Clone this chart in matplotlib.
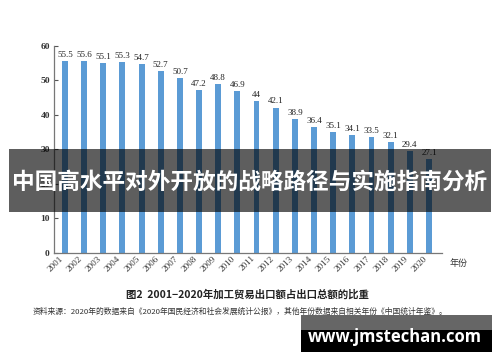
import matplotlib
matplotlib.use("Agg")
import matplotlib.pyplot as plt
from matplotlib.patches import Rectangle
from matplotlib.transforms import offset_copy

years = ["2001", "2002", "2003", "2004", "2005", "2006", "2007", "2008", "2009", "2010",
         "2011", "2012", "2013", "2014", "2015", "2016", "2017", "2018", "2019", "2020"]
shares = [55.5, 55.6, 55.1, 55.3, 54.7, 52.7, 50.7, 47.2, 48.8, 46.9,
          44, 42.1, 38.9, 36.4, 35.1, 34.1, 33.5, 32.1, 29.4, 27.1]
value_labels = ["55.5", "55.6", "55.1", "55.3", "54.7", "52.7", "50.7", "47.2", "48.8", "46.9",
                "44", "42.1", "38.9", "36.4", "35.1", "34.1", "33.5", "32.1", "29.4", "27.1"]
yticks = [0, 10, 20, 30, 40, 50, 60]

caption = "图2  2001−2020年加工贸易出口额占出口总额的比重"
source = "资料来源：2020年的数据来自《2020年国民经济和社会发展统计公报》，其他年份数据来自相关年份《中国统计年鉴》。"
banner = "中国高水平对外开放的战略路径与实施指南分析"
watermark = "www.jmstechan.com"
xunit = "年份"

serif = ["Liberation Serif", "Noto Sans CJK SC"]
cjk = ["Noto Sans CJK SC", "DejaVu Sans"]

fig = plt.figure(figsize=(5.0, 3.62), dpi=100)
ax = fig.add_axes([0.108, 0.301, 0.776, 0.5727])

x = list(range(len(years)))
bars = ax.bar(x, shares, width=0.31, color="#5b9bd5", zorder=2)
for xi, v, lab in zip(x, shares, value_labels):
    ax.annotate(lab, (xi, v), xytext=(0, 1.5), textcoords="offset points",
                ha="center", va="bottom", fontsize=6.5, family=serif, color="#222222")

ax.set_xlim(-0.57, 19.68)
ax.set_ylim(0, 60)
ax.set_yticks(yticks)
ax.set_yticklabels([str(t) for t in yticks], family=serif, fontsize=6.8,
                   fontweight="bold", color="#333333")
ax.set_xticks(x)
ax.set_xticklabels(years, rotation=45, ha="right", va="top", family=serif,
                   fontsize=6.6, color="#333333")
for lbl in ax.get_xticklabels():
    lbl.set_transform(offset_copy(lbl.get_transform(), fig=fig, x=3, y=-2, units="dots"))
ax.tick_params(axis="x", length=0, pad=1)
ax.tick_params(axis="y", direction="in", length=3, width=0.8, color="#555555", pad=3)
for s in ["top", "right"]:
    ax.spines[s].set_visible(False)
for s in ["left", "bottom"]:
    ax.spines[s].set_color("#777777")
    ax.spines[s].set_linewidth(0.9)

fig.text(450 / 500, 1 - 263 / 362, xunit, family=cjk, fontsize=6.5,
         ha="left", va="center", color="#333333")

fig.text(247 / 500, 1 - 294 / 362, caption, family=cjk, fontsize=7.5,
         fontweight="bold", ha="center", va="center", color="#222222")
fig.text(33 / 500, 1 - 312 / 362, source, family=cjk, fontsize=5.6,
         ha="left", va="center", color="#333333")

# banner overlay
fig.patches.append(Rectangle((9 / 500, 1 - 212 / 362), 482 / 500, 63 / 362,
                             transform=fig.transFigure, facecolor="black",
                             alpha=0.63, edgecolor="none", zorder=5))
fig.text(250 / 500, 1 - 182 / 362, banner, family=cjk, fontsize=16.3,
         fontweight="bold", color="white", ha="center", va="center", zorder=6)

# watermark box
fig.patches.append(Rectangle((301 / 500, 1 - 330 / 362), 191 / 500, 15 / 362,
                             transform=fig.transFigure, facecolor="#666666",
                             edgecolor="none", zorder=5))
fig.patches.append(Rectangle((301 / 500, 1 - 352 / 362), 191 / 500, 22 / 362,
                             transform=fig.transFigure, facecolor="black",
                             edgecolor="none", zorder=5))
fig.text(395 / 500, 1 - 337 / 362, watermark, family=["Open Sans", "DejaVu Sans"],
         fontsize=12, fontweight="bold", color="white", ha="center", va="center", zorder=6)

fig.savefig("out.png", dpi=100)
